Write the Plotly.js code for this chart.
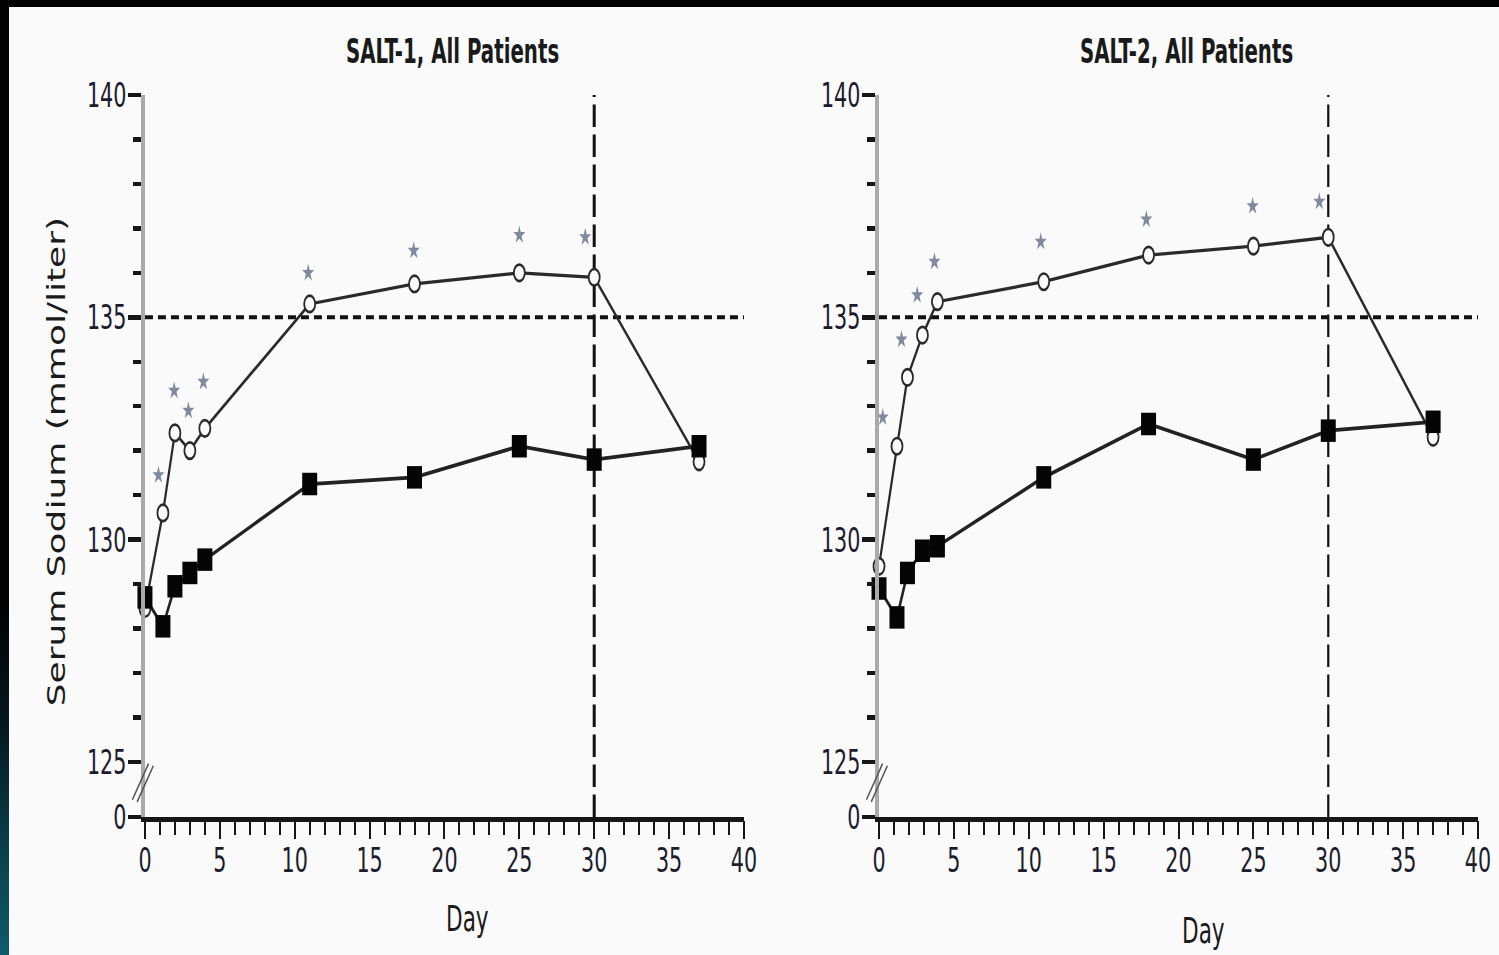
<!DOCTYPE html>
<html>
<head>
<meta charset="utf-8">
<script src="https://cdn.plot.ly/plotly-3.0.1.min.js"></script>
<style>
  html, body { margin:0; padding:0; background:#fafafa; overflow:hidden; width:1499px; height:955px; }
  #wrap { position:absolute; left:0; top:0; width:1499px; height:637px; transform:scaleY(1.5); transform-origin:0 0; }
  #chart { width:1499px; height:637px; }
  #ftop { position:absolute; left:0; top:0; width:1499px; height:7px; background:#000; z-index:5; }
  #fleft { position:absolute; left:0; top:0; width:9px; height:955px; z-index:6;
           background:linear-gradient(to bottom, #000 0%, #000 62%, #04161b 75%, #0a3d48 88%, #0f5b6b 100%); }
</style>
</head>
<body>
<div id="wrap"><div id="chart"></div></div>
<div id="ftop"></div><div id="fleft"></div>
<script>
// ---------- data ----------
const panelTitles = ['SALT-1, All Patients', 'SALT-2, All Patients'];
const yTitle = 'Serum Sodium (mmol/liter)';
const xTitle = 'Day';

// SALT-1
const days1     = [0, 1.2, 2, 3, 4, 11, 18, 25, 30, 37];
const tolvaptan1 = [128.45, 130.6, 132.4, 132.0, 132.5, 135.3, 135.75, 136.0, 135.9, 131.75];
const placebo1   = [128.7, 128.05, 128.95, 129.25, 129.55, 131.25, 131.4, 132.1, 131.8, 132.1];
const starDays1  = [0.9, 1.95, 2.9, 3.9, 10.9, 17.95, 25, 29.4];
const starVals1  = [131.45, 133.35, 132.9, 133.55, 136.0, 136.5, 136.85, 136.8];

// SALT-2
const days2     = [0, 1.2, 1.9, 2.9, 3.9, 11, 18, 25, 30, 37];
const tolvaptan2 = [129.4, 132.1, 133.65, 134.6, 135.35, 135.8, 136.4, 136.6, 136.8, 132.3];
const placebo2   = [128.9, 128.25, 129.25, 129.75, 129.85, 131.4, 132.6, 131.8, 132.45, 132.65];
const starDays2  = [0.25, 1.5, 2.55, 3.7, 10.8, 17.85, 24.95, 29.4];
const starVals2  = [132.75, 134.5, 135.5, 136.25, 136.7, 137.2, 137.5, 137.6];

// axis / reference values
const yBreakPos   = 123.76;          // where the broken axis shows "0"
const yTop        = 140;
const yTickVals   = [yBreakPos, 125, 130, 135, 140];
const yTickText   = ['0', '125', '130', '135', '140'];
const yMinorVals  = [126, 127, 128, 129, 131, 132, 133, 134, 136, 137, 138, 139];
const xRange      = [0, 40];
const normalNa    = 135;   // horizontal dashed reference
const endOfTreat  = 30;    // vertical dashed reference

// ---------- styling ----------
const NARROW = "'Liberation Sans Narrow', 'Arial Narrow', 'DejaVu Sans Condensed', sans-serif";
const BG = '#fafafa';
const INK = '#161616';

function traces(days, tol, pla, sd, sv, xa, ya) {
  return [
    { x: days, y: tol, xaxis: xa, yaxis: ya, type: 'scatter', mode: 'lines+markers', cliponaxis: false,
      name: 'Tolvaptan', showlegend: false,
      line: { color: '#2a2a2a', width: 2.2 },
      marker: { symbol: 'circle', size: 11, color: BG, line: { color: '#2a2a2a', width: 1.8 } } },
    { x: days, y: pla, xaxis: xa, yaxis: ya, type: 'scatter', mode: 'lines+markers', cliponaxis: false,
      name: 'Placebo', showlegend: false,
      line: { color: '#222', width: 2.5 },
      marker: { symbol: 'square', size: 15, color: '#050505' } },
    { x: sd, y: sv, xaxis: xa, yaxis: ya, type: 'scatter', mode: 'markers', cliponaxis: false,
      name: 'P<0.05', showlegend: false,
      marker: { symbol: 'star', size: 9, color: '#7f89a0' } }
  ];
}

const data = [
  ...traces(days1, tolvaptan1, placebo1, starDays1, starVals1, 'x', 'y'),
  ...traces(days2, tolvaptan2, placebo2, starDays2, starVals2, 'x2', 'y2')
];

function xaxisDef(domain, anchor) {
  return {
    domain: domain, anchor: anchor, range: xRange, fixedrange: true,
    showline: true, linecolor: INK, linewidth: 2.7,
    ticks: 'outside', tickmode: 'linear', tick0: 0, dtick: 5,
    ticklen: 12, tickwidth: 2.2, tickcolor: INK,
    minor: { tickmode: 'linear', tick0: 0, dtick: 1, ticklen: 9, tickwidth: 2.2, tickcolor: INK, showgrid: false },
    tickfont: { family: NARROW, size: 23, color: '#1c1c2c' },
    ticklabelstandoff: -6,
    showgrid: false, zeroline: false
  };
}
function yaxisDef(anchor) {
  return {
    domain: [0.1449, 0.9006], anchor: anchor, range: [yBreakPos, yTop], fixedrange: true,
    showline: true, linecolor: '#aaaaaa', linewidth: 4,
    ticks: 'outside', tickmode: 'array', tickvals: yTickVals, ticktext: yTickText,
    ticklen: 13, tickwidth: 2.7, tickcolor: INK,
    minor: { tickmode: 'array', tickvals: yMinorVals, ticklen: 8, tickwidth: 2.7, tickcolor: INK, showgrid: false },
    tickfont: { family: NARROW, size: 23, color: '#1c1c2c' },
    ticklabelstandoff: -3,
    showgrid: false, zeroline: false
  };
}

function refShapes(xa, ya, vWidth) {
  return [
    { type: 'line', xref: xa, yref: ya, x0: xRange[0], x1: xRange[1], y0: normalNa, y1: normalNa,
      line: { color: '#111', width: 2.7, dash: '8px,5px' }, layer: 'below' },
    { type: 'line', xref: xa, yref: ya + ' domain', x0: endOfTreat, x1: endOfTreat, y0: 0, y1: 1,
      line: { color: '#111', width: vWidth, dash: '15px,5px' }, layer: 'below' },
    // axis-break marks
    { type: 'line', xref: xa + ' domain', yref: ya + ' domain', x0: -0.021, x1: 0.006, y0: 0.024, y1: 0.074,
      line: { color: '#555', width: 1.4 } },
    { type: 'line', xref: xa + ' domain', yref: ya + ' domain', x0: -0.013, x1: 0.014, y0: 0.021, y1: 0.071,
      line: { color: '#555', width: 1.4 } }
  ];
}

const layout = {
  width: 1499, height: 637,
  margin: { l: 0, r: 0, t: 0, b: 0 },
  paper_bgcolor: BG, plot_bgcolor: BG,
  showlegend: false,
  xaxis: xaxisDef([0.0967, 0.4963], 'y'),
  yaxis: yaxisDef('x'),
  xaxis2: xaxisDef([0.5864, 0.9860], 'y2'),
  yaxis2: yaxisDef('x2'),
  shapes: [...refShapes('x', 'y', 3), ...refShapes('x2', 'y2', 2.2)],
  annotations: [
    { text: panelTitles[0], xref: 'x domain', yref: 'paper', x: 0.514, y: 0.9455, showarrow: false,
      xanchor: 'center', yanchor: 'middle', font: { family: NARROW, size: 22, color: '#1a1a1a', weight: 'bold' } },
    { text: panelTitles[1], xref: 'x2 domain', yref: 'paper', x: 0.514, y: 0.9455, showarrow: false,
      xanchor: 'center', yanchor: 'middle', font: { family: NARROW, size: 22, color: '#1a1a1a', weight: 'bold' } },
    { text: xTitle, xref: 'x domain', yref: 'paper', x: 0.539, y: 0.037, showarrow: false,
      xanchor: 'center', yanchor: 'middle', font: { family: NARROW, size: 24, color: '#1a1a1a' } },
    { text: xTitle, xref: 'x2 domain', yref: 'paper', x: 0.541, y: 0.025, showarrow: false,
      xanchor: 'center', yanchor: 'middle', font: { family: NARROW, size: 24, color: '#1a1a1a' } },
    { text: yTitle, xref: 'paper', yref: 'paper', x: 0.038, y: 0.5165, textangle: -90, showarrow: false,
      xanchor: 'center', yanchor: 'middle', font: { family: "'DejaVu Sans', Verdana, sans-serif", size: 24, color: '#1a1a1a' } }
  ]
};

Plotly.newPlot('chart', data, layout, { displayModeBar: false, responsive: false });
</script>
</body>
</html>
